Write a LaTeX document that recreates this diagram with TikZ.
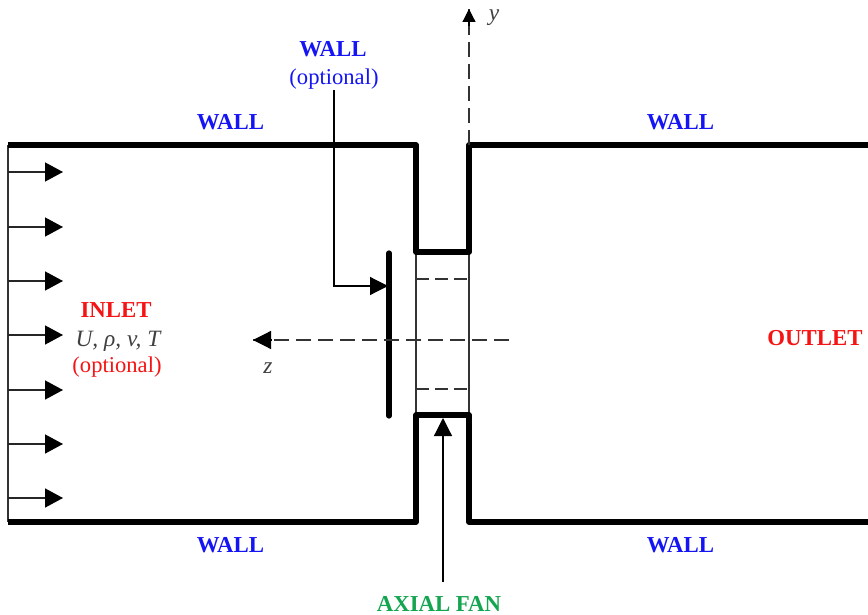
\documentclass[tikz,border=0pt]{standalone}
\usepackage{fontspec}
\setmainfont{Liberation Serif}
\usetikzlibrary{arrows.meta}
\definecolor{wallblue}{RGB}{20,20,245}
\definecolor{inred}{RGB}{245,20,20}
\definecolor{fangreen}{RGB}{20,165,80}
\tikzset{x=1pt,y=-1pt,
 thick wall/.style={line width=5.4pt,line join=round,line cap=round},
 thin wall/.style={line width=1.5pt,draw=black!80},
 flow/.style={line width=1.5pt,draw=black!85,-{Triangle[length=18pt,width=19pt,black]}},
 lead/.style={line width=1.2pt,-{Triangle[length=18pt,width=18pt,black]}},
 axis line/.style={line width=1.2pt,draw=black!80,dash pattern=on 15pt off 7pt},
 lab/.style={font=\fontsize{22.8}{26}\selectfont\bfseries,inner sep=0pt,anchor=center},
 opt/.style={font=\fontsize{22.6}{26}\selectfont,inner sep=0pt,anchor=center},
 var/.style={font=\fontsize{23.4}{26}\selectfont\itshape,text=black!75,inner sep=0pt,anchor=center}}
\begin{document}
\begin{tikzpicture}
\useasboundingbox (0,0) rectangle (868,615);
% named corners
\coordinate (tl) at (8,145); \coordinate (bl) at (8,522);
\coordinate (tr) at (872,145); \coordinate (br) at (872,522);
\coordinate (n1) at (416,145); \coordinate (n2) at (416,252); \coordinate (n3) at (469,252); \coordinate (n4) at (469,145);
\coordinate (s1) at (416,522); \coordinate (s2) at (416,415); \coordinate (s3) at (469,415); \coordinate (s4) at (469,522);
% thin walls and dashed lines
\draw[thin wall] (tl) -- (bl);
\draw[thin wall] (n2) -- (s2);
\draw[thin wall] (n3) -- (s3);
\coordinate (d1a) at (416,279); \coordinate (d1b) at (469,279);
\coordinate (d2a) at (416,389); \coordinate (d2b) at (469,389);
\draw[line width=1.2pt,draw=black!80,dash pattern=on 13pt off 6pt] (d1a) -- (d1b);
\draw[line width=1.2pt,draw=black!80,dash pattern=on 13pt off 6pt] (d2a) -- (d2b);
% thick walls
\draw[thick wall,line cap=butt] (tl) -- (n1) -- (n2) -- (n3) -- (n4) -- (tr);
\draw[thick wall,line cap=butt] (bl) -- (s1) -- (s2) -- (s3) -- (s4) -- (br);
% optional wall plate
\coordinate (p1) at (389,253); \coordinate (p2) at (389,416); \coordinate (pm) at (388,286);
\draw[line width=5.2pt,line cap=round] (p1) -- (p2);
% inlet arrows
\foreach \n/\yy in {a/172,b/227,c/281,d/335,e/390,f/444,g/498}{
 \coordinate (i\n) at (8,\yy); \coordinate (j\n) at (63,\yy);
 \draw[flow] (i\n) -- (j\n);
}
% axes
\coordinate (zs) at (509,340); \coordinate (ze) at (253,340);
\draw[axis line] (zs) -- (ze);
\coordinate (zh) at (271,340);
\draw[lead] (zh) -- (ze);
\coordinate (ys) at (469,145); \coordinate (ye) at (469,9);
\draw[axis line] (ys) -- (ye);
\coordinate (yh) at (469,26);
\draw[lead,-{Triangle[length=13pt,width=13pt,black]}] (yh) -- (ye);
% labels
\node[lab,text=wallblue] (w1) at (230.5,122) {WALL};
\node[lab,text=wallblue] (w2) at (680.5,122) {WALL};
\node[lab,text=wallblue] (w3) at (230.5,545) {WALL};
\node[lab,text=wallblue] (w4) at (680.5,545) {WALL};
\node[lab,text=wallblue] (w5) at (333,49) {WALL};
\node[opt,text=wallblue] (w6) at (334,79) {(optional)};
\node[lab,text=inred] (inl) at (116,310) {INLET};
\node[var] (vars) at (118,341) {U, ρ, v, T};
\node[opt,text=inred] (inopt) at (117,367) {(optional)};
\node[lab,text=inred] (out) at (815,338) {OUTLET};
\node[lab,text=fangreen] (fan) at (439,603.5) {AXIAL FAN};
\node[var] (zl) at (268,368) {z};
\node[var] (yl) at (494,18) {y};
% leaders
\coordinate (lw) at (334,90); \coordinate (lc) at (334,286);
\draw[lead] (lw) -- (lc) -- (pm);
\coordinate (fs) at (443,582); \coordinate (fe) at (443,418);
\draw[lead] (fs) -- (fe);
\end{tikzpicture}
\end{document}
